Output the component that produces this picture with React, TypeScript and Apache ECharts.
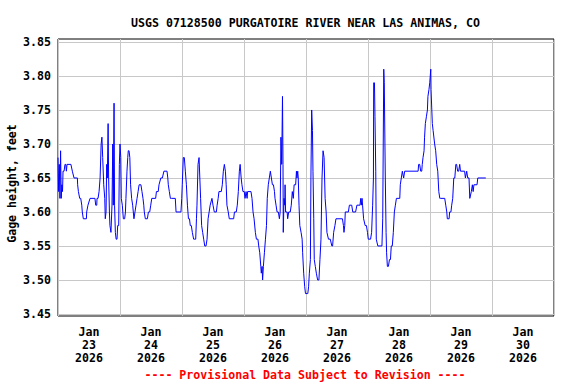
import React, { useEffect, useRef } from "react";
import * as echarts from "echarts";

const TITLE = "USGS 07128500 PURGATOIRE RIVER NEAR LAS ANIMAS, CO";
const Y_NAME = "Gage height, feet";
const FOOTNOTE = "---- Provisional Data Subject to Revision ----";

// x labels (one per day band, day boundaries are gridlines)
const dayLabels = ["Jan\n23\n2026", "Jan\n24\n2026", "Jan\n25\n2026", "Jan\n26\n2026", "Jan\n27\n2026", "Jan\n28\n2026", "Jan\n29\n2026", "Jan\n30\n2026"];
const yTicks = [3.45, 3.5, 3.55, 3.6, 3.65, 3.7, 3.75, 3.8, 3.85];

// hours since Jan 23 2026 00:00
const hours = [
  0, 0.25, 0.5, 0.75, 1.0, 1.25, 1.5, 1.75, 1.95, 2.35, 2.7, 3.0, 3.25, 3.5, 5.0, 5.55, 6.2, 7.5, 7.6, 7.9, 8.4, 8.8, 9.2, 9.4, 9.8, 11.0, 11.1, 11.6, 12.4, 14.3, 14.6, 15.0, 15.1, 15.5, 15.9, 16.3, 16.7, 17.0, 17.3, 17.7, 18.1, 18.3, 18.6, 18.85, 19.1, 19.4, 19.6, 19.9, 20.1, 20.5, 20.9, 21.2, 21.4, 21.7, 21.9, 22.2, 22.5, 22.85, 23.1, 23.5, 23.75,
  24.0, 24.3, 24.5, 24.9, 25.3, 25.8, 26.1, 26.3, 26.7, 27.0, 27.2, 27.5, 27.8, 28.1, 28.5, 28.9, 29.4, 29.8, 30.2, 30.6, 31.0, 31.4, 32.1, 32.5, 32.9, 33.2, 33.4, 33.8, 34.6, 35.0, 35.5, 35.9, 36.3, 37.8, 38.1, 38.8, 39.1, 39.8, 40.4, 41.0, 42.2, 42.5, 42.7, 43.1, 43.5, 43.9, 45.4, 45.7, 47.6, 47.9,
  48.1, 48.5, 48.9, 49.3, 49.7, 50.1, 50.5, 50.9, 51.2, 51.6, 52.0, 52.5, 52.9, 53.3, 53.6, 53.8, 54.2, 54.6, 54.9, 55.2, 55.6, 56.0, 56.4, 56.8, 57.3, 57.7, 58.1, 58.5, 58.9, 59.6, 60.0, 60.5, 61.3, 61.6, 62.0, 62.3, 63.2, 63.6, 64.0, 64.4, 64.8, 65.1, 65.4, 65.9, 66.3, 68.0, 68.3, 69.0, 69.4, 69.8, 70.2, 70.5, 70.9, 71.2, 71.6,
  72.1, 72.4, 72.8, 73.2, 73.4, 74.7, 75.1, 75.5, 75.9, 76.4, 76.8, 77.4, 77.7, 78.1, 78.5, 78.7, 79.0, 79.2, 79.5, 79.9, 80.3, 80.7, 81.0, 81.4, 81.8, 82.2, 82.6, 83.0, 83.4, 83.8, 84.0, 84.4, 84.8, 85.3, 85.7, 86.0, 86.3, 86.6, 86.9, 87.1, 87.2, 87.5, 87.8, 87.9, 88.1, 88.7, 88.9, 89.3, 89.9, 90.3, 90.7, 91.1, 91.4, 92.0, 92.3, 92.5, 92.8, 93.0, 93.3, 93.6, 94.1, 94.5, 94.7, 95.1, 95.5, 95.8,
  96.4, 96.7, 97.0, 97.3, 97.7, 97.9, 98.2, 98.5, 98.7, 99.0, 99.2, 99.6, 100.0, 100.5, 101.0, 101.4, 101.8, 102.2, 102.6, 103.0, 103.4, 103.8, 104.1, 104.7, 105.4, 106.0, 106.3, 106.7, 107.2, 107.6, 110.1, 110.5, 110.7, 111.0, 111.2, 112.4, 112.8, 113.7, 114.1, 115.2, 115.7, 116.9, 117.2, 117.4, 117.7, 117.9, 118.3, 118.9, 119.4, 119.8,
  120.1, 120.4, 121.0, 121.4, 121.8, 122.1, 122.2, 122.5, 122.7, 123.0, 123.2, 123.8, 125.4, 125.7, 125.9, 126.1, 126.3, 126.5, 126.7, 127.0, 127.2, 127.5, 127.9, 128.3, 128.7, 129.0, 129.4, 129.8, 130.2, 130.6, 131.0, 132.3, 132.5, 132.9, 133.3, 133.8, 134.2, 139.4, 139.6, 140.0, 140.4, 140.8, 141.0, 141.3, 141.7, 141.9, 142.2, 142.6, 143.0, 143.2, 143.6, 143.9,
  144.3, 144.4, 144.7, 144.9, 145.2, 145.4, 145.8, 146.2, 146.6, 147.0, 147.4, 147.8, 148.1, 149.7, 150.1, 150.5, 150.7, 151.4, 151.6, 152.1, 152.4, 152.8, 153.2, 153.6, 154.0, 154.3, 154.7, 155.1, 155.5, 155.8, 157.4, 157.7, 158.2, 158.6, 159.1, 159.4, 159.6, 160.0, 160.4, 160.7, 161.0, 162.2, 162.5, 165.6,
];

const gageHeight = [
  3.68, 3.63, 3.67, 3.62, 3.69, 3.62, 3.64, 3.63, 3.66, 3.66, 3.67, 3.67, 3.66, 3.67, 3.67, 3.66, 3.65, 3.65, 3.64, 3.63, 3.62, 3.62, 3.61, 3.60, 3.59, 3.59, 3.60, 3.61, 3.62, 3.62, 3.61, 3.61, 3.62, 3.62, 3.63, 3.65, 3.70, 3.71, 3.68, 3.64, 3.62, 3.59, 3.60, 3.67, 3.65, 3.73, 3.65, 3.60, 3.58, 3.57, 3.61, 3.70, 3.61, 3.76, 3.61, 3.57, 3.56, 3.56, 3.58, 3.58, 3.67,
  3.70, 3.68, 3.62, 3.61, 3.59, 3.59, 3.60, 3.62, 3.66, 3.68, 3.69, 3.69, 3.68, 3.64, 3.62, 3.61, 3.59, 3.60, 3.61, 3.62, 3.63, 3.64, 3.64, 3.63, 3.62, 3.61, 3.60, 3.59, 3.59, 3.60, 3.60, 3.61, 3.62, 3.62, 3.63, 3.63, 3.64, 3.65, 3.65, 3.66, 3.66, 3.65, 3.64, 3.63, 3.62, 3.62, 3.62, 3.60, 3.60, 3.62,
  3.64, 3.68, 3.68, 3.66, 3.64, 3.61, 3.59, 3.59, 3.58, 3.58, 3.57, 3.56, 3.56, 3.56, 3.59, 3.61, 3.67, 3.68, 3.65, 3.62, 3.58, 3.57, 3.56, 3.55, 3.55, 3.56, 3.59, 3.60, 3.61, 3.62, 3.61, 3.60, 3.60, 3.61, 3.62, 3.63, 3.63, 3.64, 3.66, 3.67, 3.66, 3.64, 3.61, 3.60, 3.59, 3.59, 3.60, 3.60, 3.61, 3.63, 3.66, 3.67, 3.65, 3.64, 3.63,
  3.63, 3.62, 3.63, 3.62, 3.63, 3.63, 3.62, 3.60, 3.59, 3.57, 3.56, 3.56, 3.55, 3.54, 3.52, 3.51, 3.52, 3.50, 3.52, 3.54, 3.56, 3.58, 3.62, 3.64, 3.65, 3.66, 3.65, 3.64, 3.64, 3.63, 3.62, 3.61, 3.60, 3.60, 3.59, 3.60, 3.71, 3.67, 3.77, 3.67, 3.57, 3.62, 3.61, 3.64, 3.60, 3.60, 3.59, 3.60, 3.60, 3.61, 3.63, 3.62, 3.64, 3.64, 3.66, 3.65, 3.66, 3.65, 3.61, 3.58, 3.57, 3.56, 3.54, 3.51, 3.49, 3.48,
  3.48, 3.48, 3.49, 3.51, 3.53, 3.65, 3.75, 3.72, 3.66, 3.59, 3.53, 3.52, 3.51, 3.50, 3.50, 3.53, 3.56, 3.65, 3.69, 3.68, 3.62, 3.60, 3.57, 3.56, 3.56, 3.55, 3.55, 3.57, 3.58, 3.59, 3.59, 3.58, 3.57, 3.58, 3.60, 3.60, 3.61, 3.61, 3.60, 3.60, 3.61, 3.61, 3.62, 3.61, 3.62, 3.61, 3.59, 3.58, 3.58, 3.57,
  3.56, 3.56, 3.56, 3.57, 3.61, 3.65, 3.79, 3.79, 3.74, 3.66, 3.56, 3.55, 3.55, 3.59, 3.59, 3.81, 3.79, 3.79, 3.65, 3.57, 3.54, 3.52, 3.52, 3.53, 3.53, 3.55, 3.55, 3.57, 3.60, 3.61, 3.62, 3.62, 3.64, 3.65, 3.66, 3.65, 3.66, 3.66, 3.67, 3.67, 3.66, 3.66, 3.67, 3.68, 3.69, 3.71, 3.73, 3.74, 3.75, 3.77, 3.78, 3.79,
  3.81, 3.78, 3.75, 3.73, 3.72, 3.72, 3.70, 3.69, 3.67, 3.66, 3.63, 3.62, 3.62, 3.62, 3.61, 3.60, 3.59, 3.59, 3.60, 3.60, 3.61, 3.62, 3.65, 3.65, 3.67, 3.67, 3.66, 3.66, 3.67, 3.66, 3.66, 3.65, 3.66, 3.65, 3.65, 3.62, 3.62, 3.63, 3.64, 3.63, 3.64, 3.64, 3.65, 3.65,
];

const FONT = "DejaVu Sans Mono";
const FS = 11.6;

export default function App() {
  const ref = useRef<HTMLDivElement>(null);

  useEffect(() => {
    if (!ref.current) return;
    const chart = echarts.init(ref.current, null, { renderer: "svg" });
    const data = hours.map((h, i) => [h, gageHeight[i]]);
    chart.setOption({
      animation: false,
      backgroundColor: "#ffffff",
      title: {
        text: TITLE,
        left: 126,
        top: 12,
        textStyle: { fontFamily: FONT, fontWeight: "bold", fontSize: FS, color: "#000" },
      },
      grid: {
        left: 58,
        right: 22,
        top: 39,
        bottom: 68,
        show: true,
        borderColor: "#000",
        borderWidth: 1,
        backgroundColor: "transparent",
      },
      xAxis: [
        {
          type: "value",
          min: 0,
          max: 192,
          interval: 24,
          axisLine: { show: false },
          axisTick: { show: false },
          axisLabel: { show: false },
          splitLine: { show: true, lineStyle: { color: "#c8c8c8", width: 1 } },
        },
        {
          type: "category",
          data: dayLabels,
          position: "bottom",
          boundaryGap: true,
          axisLine: { show: false },
          axisTick: { show: false },
          splitLine: { show: false },
          axisLabel: {
            interval: 0,
            margin: 9,
            lineHeight: 13,
            fontFamily: FONT,
            fontWeight: "bold",
            fontSize: FS,
            color: "#000",
          },
        },
      ],
      yAxis: {
        type: "value",
        min: 3.447,
        max: 3.8544,
        axisLine: { show: false },
        axisTick: { show: false, customValues: yTicks },
        axisLabel: {
          customValues: yTicks,
          formatter: (v: number) => v.toFixed(2),
          margin: 7,
          fontFamily: FONT,
          fontWeight: "bold",
          fontSize: FS,
          color: "#000",
        },
        splitLine: { show: true, lineStyle: { color: "#c8c8c8", width: 1 } },
      },
      series: [
        {
          type: "line",
          xAxisIndex: 0,
          data,
          showSymbol: false,
          symbol: "none",
          lineStyle: { color: "#0000ff", width: 1 },
          z: 5,
        },
      ],
      graphic: [
        {
          type: "text",
          x: 12,
          y: 183.5,
          rotation: Math.PI / 2,
          style: {
            text: Y_NAME,
            align: "center",
            verticalAlign: "middle",
            fontFamily: FONT,
            fontWeight: "bold",
            fontSize: FS,
            fill: "#000",
          },
        },
        {
          type: "text",
          x: 305,
          y: 375,
          style: {
            text: FOOTNOTE,
            align: "center",
            verticalAlign: "middle",
            fontFamily: FONT,
            fontWeight: "bold",
            fontSize: FS,
            fill: "#ff0000",
          },
        },
      ],
    });
    return () => chart.dispose();
  }, []);

  return (
    <div
      ref={ref}
      style={{ position: "fixed", left: 0, top: 0, width: 576, height: 384, background: "#fff" }}
    />
  );
}
